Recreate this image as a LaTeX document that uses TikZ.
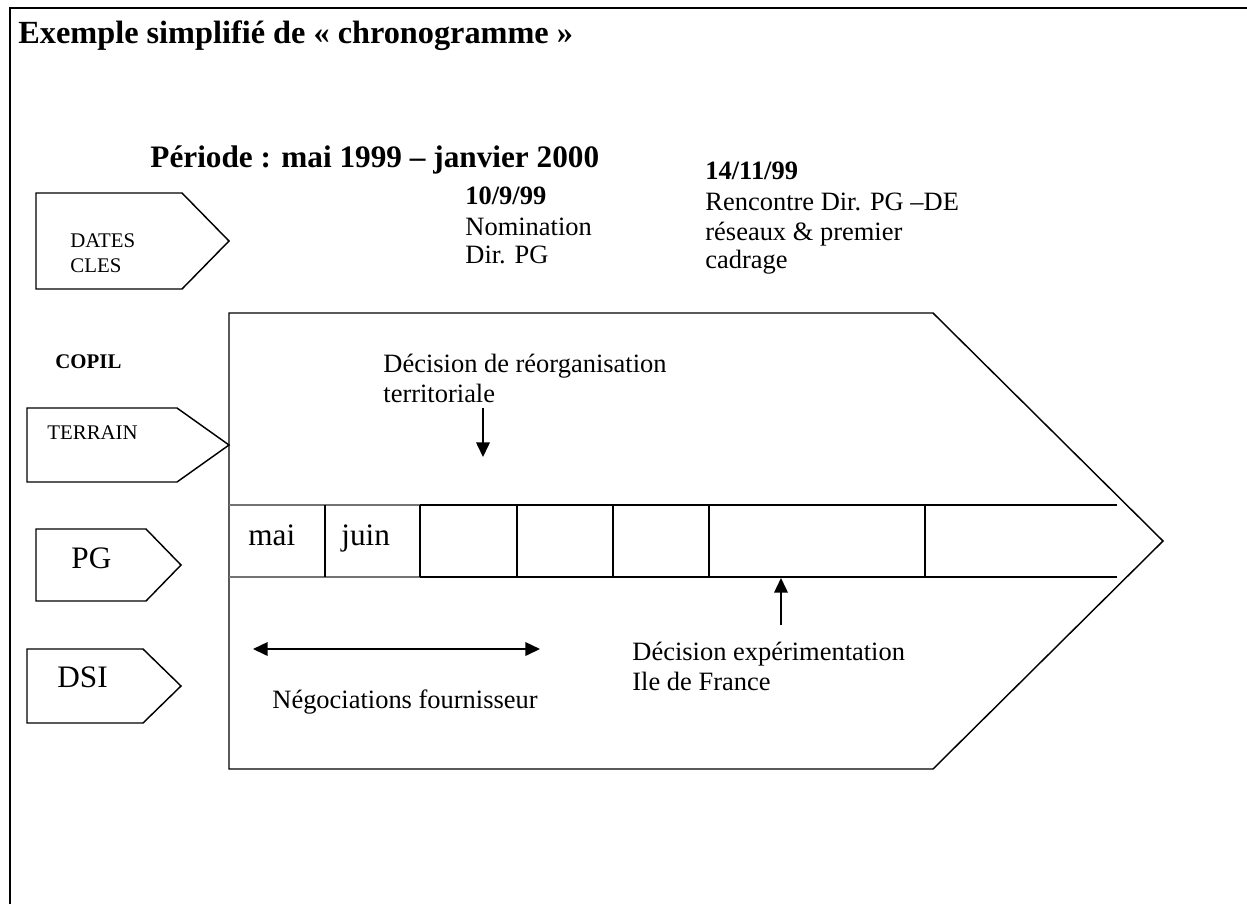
\documentclass[tikz,border=0pt]{standalone}
\usepackage{fontspec}
\setmainfont{Liberation Serif}
\usetikzlibrary{arrows.meta}
\begin{document}
\begin{tikzpicture}[x=0.48pt,y=-0.48pt,
  frameline/.style={line width=1pt},
  shapeline/.style={line width=0.7pt, line join=miter},
  bandline/.style={line width=0.9pt},
  bandthin/.style={line width=0.5pt, black!55},
  txt/.style={anchor=base west, inner sep=0pt, font=\fontsize{12.7}{15}\selectfont},
  txtb/.style={txt, font=\fontsize{12.7}{15}\selectfont\bfseries},
  small/.style={txt, font=\fontsize{10}{12}\selectfont},
  smallb/.style={txt, font=\fontsize{10}{12}\selectfont\bfseries},
  big/.style={txt, font=\fontsize{15}{18}\selectfont},
  month/.style={txt, font=\fontsize{15}{18}\selectfont},
  head/.style={txt, font=\fontsize{15.5}{18}\selectfont\bfseries},
  subhead/.style={txt, font=\fontsize{15}{18}\selectfont\bfseries},
  arr/.style={line width=0.8pt, -{Triangle[length=7pt,width=6.5pt]}},
  darr/.style={line width=0.8pt, {Triangle[length=7pt,width=6.5pt]}-{Triangle[length=7pt,width=6.5pt]}}]
\useasboundingbox (0,0) rectangle (1247,904);
% frame
\draw[frameline] (10,904) -- (10,8) -- (1247,8);
% titles
\node[head] (title) at (18,43) {Exemple simplifié de « chronogramme »};
\node[subhead] (periode) at (150,167) {Période : mai 1999 – janvier 2000};
% left labels
\draw[shapeline] (36,193) -- (182,193) -- (229,241) -- (182,289) -- (36,289) -- cycle;
\node[small] (dates) at (70,247) {DATES};
\node[small] (cles) at (70,272) {CLES};
\node[smallb] (copil) at (55,368) {COPIL};
\draw[shapeline] (27,408) -- (177,408) -- (229,445) -- (177,482) -- (27,482) -- cycle;
\node[small] (terrain) at (47,439) {TERRAIN};
\draw[shapeline] (36,529) -- (146,529) -- (181,565) -- (146,601) -- (36,601) -- cycle;
\node[big] (pg) at (71,568) {PG};
\draw[shapeline] (27,649) -- (143,649) -- (181,686) -- (143,723) -- (27,723) -- cycle;
\node[big] (dsi) at (57,687) {DSI};
% big arrow
\draw[shapeline] (229,313) -- (933,313) -- (1163,541) -- (933,769) -- (229,769) -- cycle;
% timeline band
\draw[bandthin] (229,505) -- (420,505);
\draw[bandthin] (229,577) -- (420,577);
\draw[bandline] (420,505) -- (1117,505);
\draw[bandline] (420,577) -- (1117,577);
\foreach \xx in {325,420,517,613,709,925}
  \draw[bandline] (\xx,505) -- (\xx,577);
\node[month] (mai) at (248,545) {mai};
\node[month] (juin) at (341,545) {juin};
% key dates
\node[txtb] (d1) at (465,204) {10/9/99};
\node[txt] (d1a) at (465,235) {Nomination};
\node[txt] (d1b) at (465,263) {Dir. PG};
\node[txtb] (d2) at (705,179) {14/11/99};
\node[txt] (d2a) at (705,210) {Rencontre Dir. PG –DE};
\node[txt] (d2b) at (705,240) {réseaux \& premier};
\node[txt] (d2c) at (705,268) {cadrage};
% events
\node[txt] (reorg1) at (383,372) {Décision de réorganisation};
\node[txt] (reorg2) at (383,402) {territoriale};
\coordinate (reorgA) at (483,408);
\coordinate (reorgB) at (483,457);
\draw[arr] (reorgA) -- (reorgB);
\node[txt] (exp1) at (632,660) {Décision expérimentation};
\node[txt] (exp2) at (632,690) {Ile de France};
\coordinate (expA) at (781,625);
\coordinate (expB) at (781,578);
\draw[arr] (expA) -- (expB);
\coordinate (negA) at (253,649);
\coordinate (negB) at (540,649);
\draw[darr] (negA) -- (negB);
\node[txt] (neg) at (272,708) {Négociations fournisseur};
\end{tikzpicture}
\end{document}
